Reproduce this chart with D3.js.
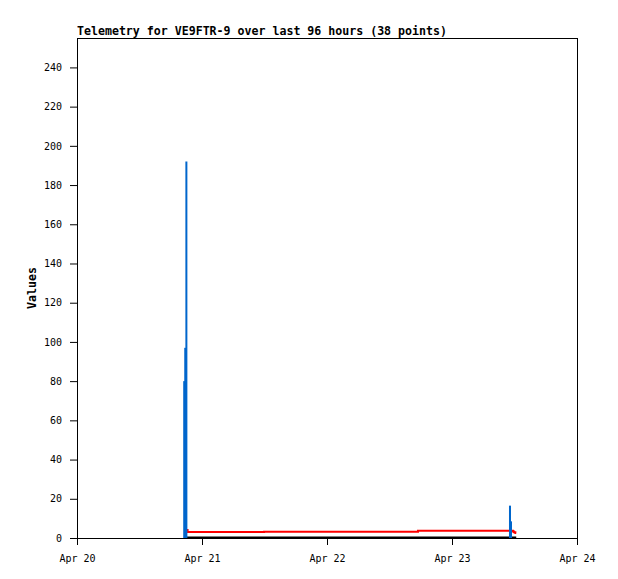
<!DOCTYPE html>
<html>
<head>
<meta charset="utf-8">
<script src="https://cdn.jsdelivr.net/npm/d3@7"></script>
<style>
  body { margin: 0; background: #fff; }
  text { font-family: "DejaVu Sans Mono", monospace; fill: #000; }
</style>
</head>
<body>
<svg id="chart"></svg>
<script>
// telemetry values
var titleText = "Telemetry for VE9FTR-9 over last 96 hours (38 points)";
var xTickDates = ["2024-04-20", "2024-04-21", "2024-04-22", "2024-04-23", "2024-04-24"];
var yTickValues = [0, 20, 40, 60, 80, 100, 120, 140, 160, 180, 200, 220, 240];

// blue impulses
var blueTimes = ["2024-04-20T20:35", "2024-04-20T20:47", "2024-04-20T21:00", "2024-04-23T11:08", "2024-04-23T11:20"];
var blueValues = [80, 97, 192, 16.5, 8.5];

// red line
var redTimes = ["2024-04-20T21:05", "2024-04-20T21:14", "2024-04-21T11:55", "2024-04-22T17:28", "2024-04-23T11:28", "2024-04-23T11:42", "2024-04-23T11:55", "2024-04-23T12:10", "2024-04-23T12:20"];
var redValues = [4.1, 3.0, 3.2, 3.7, 3.7, 3.3, 2.9, 2.5, 2.5];

// black line
var blackTimes = ["2024-04-20T21:05", "2024-04-23T12:20"];
var blackValues = [0, 0];

var W = 618, H = 579;
var margin = {top: 38, right: 41, bottom: 41, left: 77},
    width = W - margin.left - margin.right,
    height = H - margin.top - margin.bottom;

var parse = d3.timeParse("%Y-%m-%dT%H:%M"),
    parseDay = d3.timeParse("%Y-%m-%d");

var svg = d3.select("#chart").attr("width", W).attr("height", H);

var xscale = d3.scaleTime()
    .domain([parseDay(xTickDates[0]), parseDay(xTickDates[xTickDates.length - 1])])
    .range([0, width]);

var yscale = d3.scaleLinear()
    .domain([0, 255])
    .range([height, 0]);

var g = svg.append("g")
    .attr("transform", "translate(" + margin.left + "," + margin.top + ")");

// title
svg.append("text")
    .attr("x", margin.left)
    .attr("y", 35)
    .style("font-size", "11.6px")
    .style("font-weight", "bold")
    .text(titleText);

// y label
svg.append("text")
    .attr("transform", "translate(36," + (margin.top + height / 2) + ") rotate(-90)")
    .style("text-anchor", "middle")
    .style("font-size", "11.6px")
    .style("font-weight", "bold")
    .text("Values");

// axes
var xaxis = d3.axisBottom(xscale)
    .tickValues(xTickDates.map(parseDay))
    .tickSize(7)
    .tickPadding(6)
    .tickFormat(d3.timeFormat("%b %d"));

var yaxis = d3.axisLeft(yscale)
    .tickValues(yTickValues)
    .tickSize(7)
    .tickPadding(8);

var xg = g.append("g")
    .attr("transform", "translate(0," + height + ")")
    .call(xaxis);
xg.select(".domain").remove();
xg.selectAll("text").style("font-size", "10px").attr("dy", "1.1em");

var yg = g.append("g").call(yaxis);
yg.select(".domain").remove();
yg.selectAll("text").style("font-size", "10px");

g.selectAll(".tick line").attr("stroke", "#000");

// frame
g.append("rect")
    .attr("x", 0.5)
    .attr("y", 0.5)
    .attr("width", width)
    .attr("height", height)
    .attr("fill", "none")
    .attr("stroke", "#000");

// black line at zero
var blackData = blackTimes.map(function(t, i) { return {t: parse(t), v: blackValues[i]}; });
g.append("path")
    .datum(blackData)
    .attr("fill", "none")
    .attr("stroke", "#000")
    .attr("stroke-width", 2)
    .attr("d", d3.line()
        .x(function(d) { return xscale(d.t); })
        .y(function(d) { return yscale(d.v) - 0.5; }));

// red line
var redData = redTimes.map(function(t, i) { return {t: parse(t), v: redValues[i]}; });
g.append("path")
    .datum(redData)
    .attr("fill", "none")
    .attr("stroke", "#ff0000")
    .attr("stroke-width", 2)
    .attr("d", d3.line()
        .curve(d3.curveStepAfter)
        .x(function(d) { return xscale(d.t); })
        .y(function(d) { return yscale(d.v); }));

// blue impulses
var blueData = blueTimes.map(function(t, i) { return {t: parse(t), v: blueValues[i]}; });
g.selectAll(".impulse")
    .data(blueData)
    .enter().append("line")
    .attr("class", "impulse")
    .attr("x1", function(d) { return xscale(d.t); })
    .attr("x2", function(d) { return xscale(d.t); })
    .attr("y1", yscale(0))
    .attr("y2", function(d) { return yscale(d.v); })
    .attr("stroke", "#0066cc")
    .attr("stroke-width", 2);
</script>
</body>
</html>
